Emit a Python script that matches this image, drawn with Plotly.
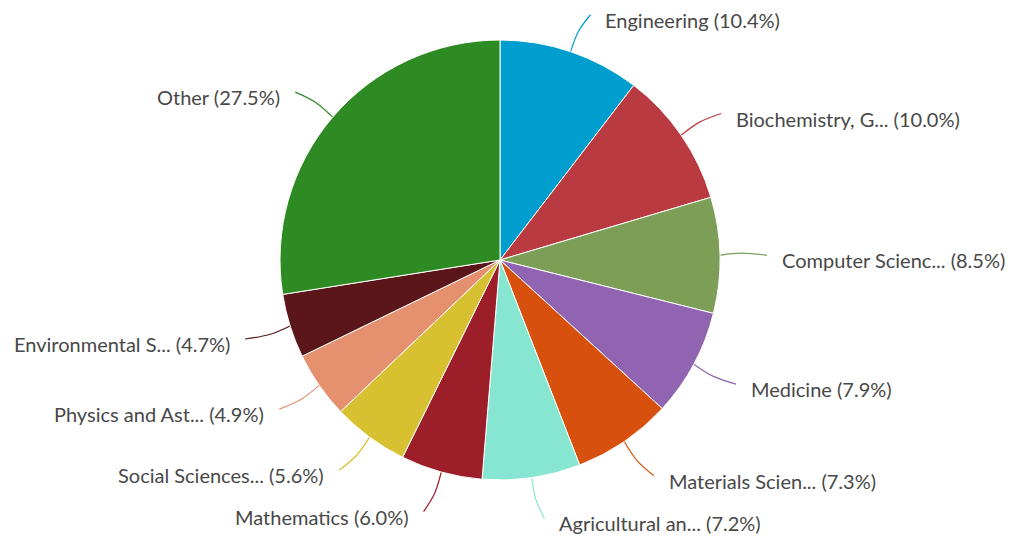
import math
import plotly.graph_objects as go

labels = ["Engineering", "Biochemistry, G...", "Computer Scienc...", "Medicine",
          "Materials Scien...", "Agricultural an...", "Mathematics", "Social Sciences...",
          "Physics and Ast...", "Environmental S...", "Other"]
values = [10.4, 10.0, 8.5, 7.9, 7.3, 7.2, 6.0, 5.6, 4.9, 4.7, 27.5]
colors = ["#009dcf", "#b93a40", "#7c9e57", "#9064b0", "#d8500d", "#86e6d2",
          "#9b1e28", "#d8c131", "#e59170", "#5a1619", "#2e8b23"]

W, H = 1013, 540
CX, CY, R = 500, 260, 220
D = 40      # connector length
GAP = 20    # label offset from connector end

fig = go.Figure()
fig.add_trace(go.Pie(
    labels=labels, values=values, sort=False, direction="clockwise", rotation=0,
    marker=dict(colors=colors, line=dict(color="white", width=1)),
    textinfo="none", hoverinfo="label+percent", showlegend=False,
    domain=dict(x=[(CX - R) / W, (CX + R) / W], y=[(H - CY - R) / H, (H - CY + R) / H]),
))

total = sum(values)
cum = 0.0
annotations = []
for lab, v, c in zip(labels, values, colors):
    mid = (cum + v / 2) / total * 2 * math.pi
    cum += v
    ux, uy = math.sin(mid), -math.cos(mid)
    x0, y0 = CX + R * ux, CY + R * uy
    ex, ey = CX + (R + D) * ux, CY + (R + D) * uy
    right = ux >= 0
    sgn = 1 if right else -1
    tx, ty = ex + sgn * 7, ey + 1
    mx, my = (x0 + tx) / 2 - sgn * 2, (y0 + ty) / 2 - (1 if uy < 0 else -1) * 2
    fig.add_trace(go.Scatter(
        x=[x0, mx, tx], y=[y0, my, ty],
        mode="lines", line=dict(color=c, width=1.2, shape="spline", smoothing=1),
        hoverinfo="skip", showlegend=False, xaxis="x", yaxis="y"))
    annotations.append(dict(
        x=ex + sgn * GAP, y=ey + 6, xref="x", yref="y",
        text=f"{lab} ({v:.1f}%)", showarrow=False,
        xanchor="left" if right else "right", yanchor="middle",
        font=dict(family="Lato", size=20, color="#484848")))

fig.update_layout(
    width=W, height=H, margin=dict(l=0, r=0, t=0, b=0),
    paper_bgcolor="white", plot_bgcolor="rgba(0,0,0,0)",
    xaxis=dict(range=[0, W], visible=False, fixedrange=True),
    yaxis=dict(range=[H, 0], visible=False, fixedrange=True),
    annotations=annotations,
)
fig.write_html("out.html", config={"displayModeBar": False},
               post_script="document.body.style.margin='0';document.body.style.overflow='hidden';")
